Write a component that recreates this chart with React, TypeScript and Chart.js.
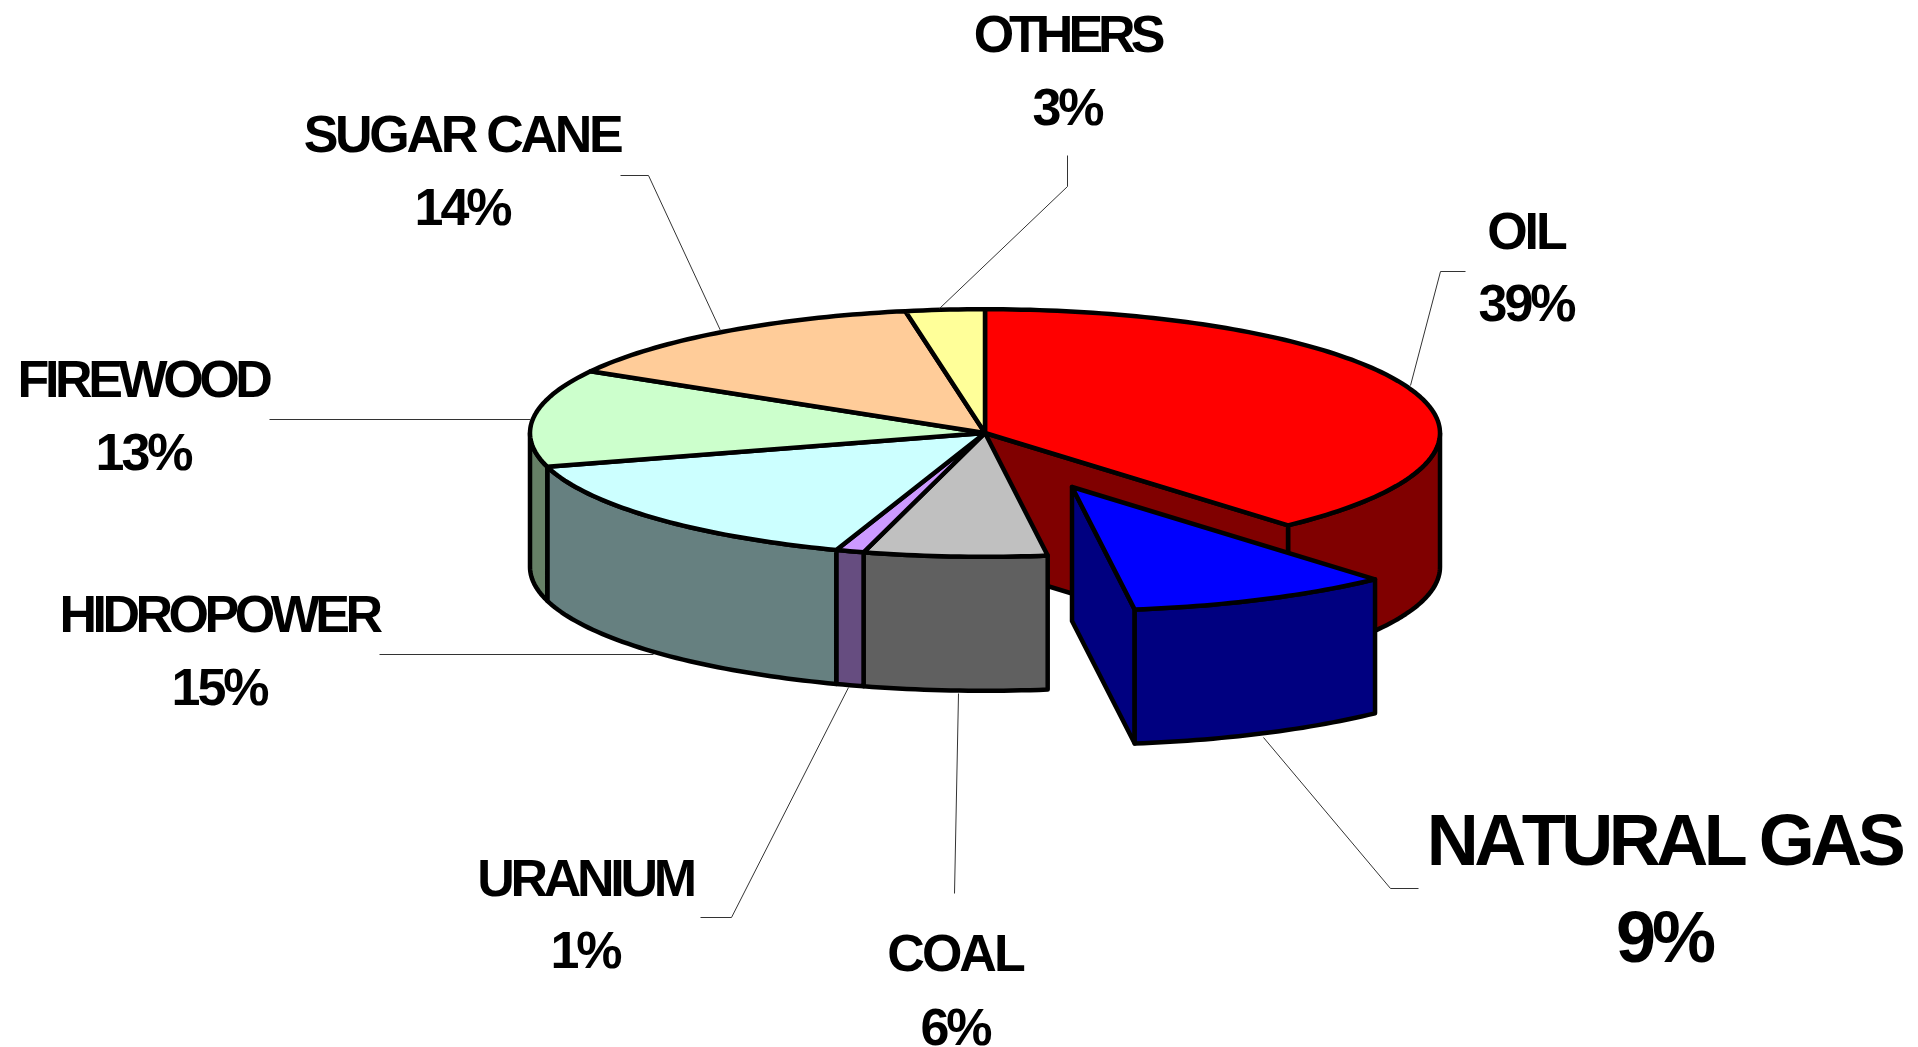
import React, { useEffect, useRef } from "react";
import { Chart, registerables } from "chart.js";

Chart.register(...registerables);

// ---- data ----
const categories = ["OIL", "NATURAL GAS", "COAL", "URANIUM", "HIDROPOWER", "FIREWOOD", "SUGAR CANE", "OTHERS"];
const percentLabels = ["39%", "9%", "6%", "1%", "15%", "13%", "14%", "3%"];
// slice sizes
const sliceShares = [38.4, 9.4, 6.5, 1.0, 15.3, 12.7, 13.9, 2.8];
const topColors = ["#FF0000", "#0000FF", "#C0C0C0", "#CC99FF", "#CCFFFF", "#CCFFCC", "#FFCC99", "#FFFF99"];
const wallColors = ["#800000", "#000080", "#606060", "#664D80", "#668080", "#668066", "#806650", "#80804D"];

// ---- layout ----
const W = 1918;
const H = 1047;
const TILT = 0.272;
const DEPTH = 134;
const RADIUS = 455;
const EXPLODED = 1;
const EXPLODE = { dx: 87, dy: 54 };
const EDGE = 4.5;
const FONT = "'Liberation Sans', Arial, sans-serif";

const labelLayout = [
  { x: 1526, name: 249, pct: 321, size: 52, gap: -3, pctGap: -3 },
  { x: 1664, name: 865, pct: 962, size: 72, gap: -4.5, pctGap: -4 },
  { x: 955, name: 971, pct: 1045, size: 52, gap: -3, pctGap: -3 },
  { x: 585, name: 896, pct: 968, size: 52, gap: -4.3, pctGap: -3 },
  { x: 219, name: 632, pct: 705, size: 52, gap: -4.5, pctGap: -3 },
  { x: 143, name: 397, pct: 470, size: 52, gap: -4.4, pctGap: -3 },
  { x: 462, name: 152, pct: 225, size: 52, gap: -3.3, pctGap: -3 },
  { x: 1067, name: 52, pct: 125, size: 52, gap: -5, pctGap: -3 },
];

const leaderLines = [
  [[1410, 385], [1440, 271], [1465, 271]],
  [[1263, 737], [1390, 888], [1418, 888]],
  [[958, 693], [954, 893]],
  [[848, 687], [731, 917], [700, 917]],
  [[379, 654], [653, 654]],
  [[269, 419], [530, 419]],
  [[720, 330], [648, 175], [620, 175]],
  [[939, 308], [1067, 186], [1067, 155]],
];

const pt = (el: any, a: number, dx = 0, dy = 0) => [
  el.x + dx + el.outerRadius * Math.cos(a),
  el.y + dy + TILT * el.outerRadius * Math.sin(a),
];

const fillStroke = (ctx: CanvasRenderingContext2D, pts: number[][], fill: string) => {
  ctx.beginPath();
  pts.forEach((p, i) => (i ? ctx.lineTo(p[0], p[1]) : ctx.moveTo(p[0], p[1])));
  ctx.closePath();
  ctx.fillStyle = fill;
  ctx.fill();
  ctx.lineWidth = EDGE;
  ctx.lineJoin = "round";
  ctx.strokeStyle = "#000000";
  ctx.stroke();
};

const arcPoints = (el: any, a0: number, a1: number, dx = 0, dy = 0) => {
  const n = Math.max(2, Math.ceil((a1 - a0) / 0.02));
  const out: number[][] = [];
  for (let i = 0; i <= n; i++) out.push(pt(el, a0 + ((a1 - a0) * i) / n, dx, dy));
  return out;
};

const drawWall = (ctx: CanvasRenderingContext2D, el: any, color: string, dx = 0, dy = 0) => {
  const a0 = Math.max(el.startAngle, 0);
  const a1 = Math.min(el.endAngle, Math.PI);
  if (a1 <= a0) return;
  const top = arcPoints(el, a0, a1, dx, dy);
  const bottom = top.map((p) => [p[0], p[1] + DEPTH]).reverse();
  fillStroke(ctx, [...top, ...bottom], color);
};

const drawEndFace = (ctx: CanvasRenderingContext2D, el: any, color: string, dx = 0, dy = 0) => {
  const c = [el.x + dx, el.y + dy];
  const e = pt(el, el.endAngle, dx, dy);
  fillStroke(ctx, [c, e, [e[0], e[1] + DEPTH], [c[0], c[1] + DEPTH]], color);
};

const drawTop = (ctx: CanvasRenderingContext2D, el: any, color: string, dx = 0, dy = 0) => {
  // the library's own arc, squashed into the tilted plane
  ctx.save();
  ctx.translate(el.x + dx, el.y + dy);
  ctx.scale(1, TILT);
  ctx.translate(-el.x, -el.y);
  el.draw(ctx);
  ctx.restore();
  // outline at even width
  ctx.beginPath();
  const pts = [[el.x + dx, el.y + dy], ...arcPoints(el, el.startAngle, el.endAngle, dx, dy)];
  pts.forEach((p, i) => (i ? ctx.lineTo(p[0], p[1]) : ctx.moveTo(p[0], p[1])));
  ctx.closePath();
  ctx.lineWidth = EDGE;
  ctx.lineJoin = "round";
  ctx.strokeStyle = "#000000";
  ctx.stroke();
};

const pie3d = {
  id: "pie3d",
  beforeDatasetsDraw(chart: any) {
    const ctx: CanvasRenderingContext2D = chart.ctx;
    const els = chart.getDatasetMeta(0).data;
    ctx.save();

    // back pieces first: the largest slice's wall and the face the pulled-out slice uncovers
    drawWall(ctx, els[0], wallColors[0]);
    drawEndFace(ctx, els[0], wallColors[0]);

    els.forEach((el: any, i: number) => {
      if (i !== 0 && i !== EXPLODED) drawWall(ctx, el, wallColors[i]);
    });
    els.forEach((el: any, i: number) => {
      if (i !== EXPLODED) drawTop(ctx, el, topColors[i]);
    });

    // pulled-out slice
    const g = els[EXPLODED];
    drawEndFace(ctx, g, wallColors[EXPLODED], EXPLODE.dx, EXPLODE.dy);
    drawWall(ctx, g, wallColors[EXPLODED], EXPLODE.dx, EXPLODE.dy);
    drawTop(ctx, g, topColors[EXPLODED], EXPLODE.dx, EXPLODE.dy);

    ctx.restore();
    return false;
  },
  afterDraw(chart: any) {
    const ctx: CanvasRenderingContext2D = chart.ctx;
    ctx.save();
    ctx.strokeStyle = "#333333";
    ctx.lineWidth = 1;
    leaderLines.forEach((line) => {
      ctx.beginPath();
      line.forEach((p, i) => (i ? ctx.lineTo(p[0] + 0.5, p[1] + 0.5) : ctx.moveTo(p[0] + 0.5, p[1] + 0.5)));
      ctx.stroke();
    });
    ctx.fillStyle = "#000000";
    ctx.textAlign = "center";
    ctx.textBaseline = "alphabetic";
    categories.forEach((name, i) => {
      const l = labelLayout[i];
      ctx.font = `bold ${l.size}px ${FONT}`;
      (ctx as any).fontKerning = "none";
      (ctx as any).letterSpacing = `${l.gap}px`;
      ctx.fillText(name, l.x, l.name);
      (ctx as any).letterSpacing = `${l.pctGap}px`;
      ctx.fillText(percentLabels[i], l.x, l.pct);
    });
    ctx.restore();
  },
};

export default function App() {
  const ref = useRef<HTMLCanvasElement>(null);
  useEffect(() => {
    document.body.style.margin = "0";
    document.body.style.background = "#ffffff";
    const chart = new Chart(ref.current!, {
      type: "pie",
      data: {
        labels: categories,
        datasets: [{ data: sliceShares, backgroundColor: topColors, borderWidth: 0 }],
      },
      options: {
        responsive: false,
        animation: false,
        radius: RADIUS,
        rotation: 0,
        layout: { padding: { left: 52, bottom: 181 } },
        plugins: { legend: { display: false }, tooltip: { enabled: false } },
      } as any,
      plugins: [pie3d as any],
    });
    return () => chart.destroy();
  }, []);
  return (
    <div style={{ position: "absolute", left: 0, top: 0, width: W, height: H, overflow: "hidden", background: "#fff" }}>
      <canvas ref={ref} width={W} height={H} style={{ display: "block" }} />
    </div>
  );
}
